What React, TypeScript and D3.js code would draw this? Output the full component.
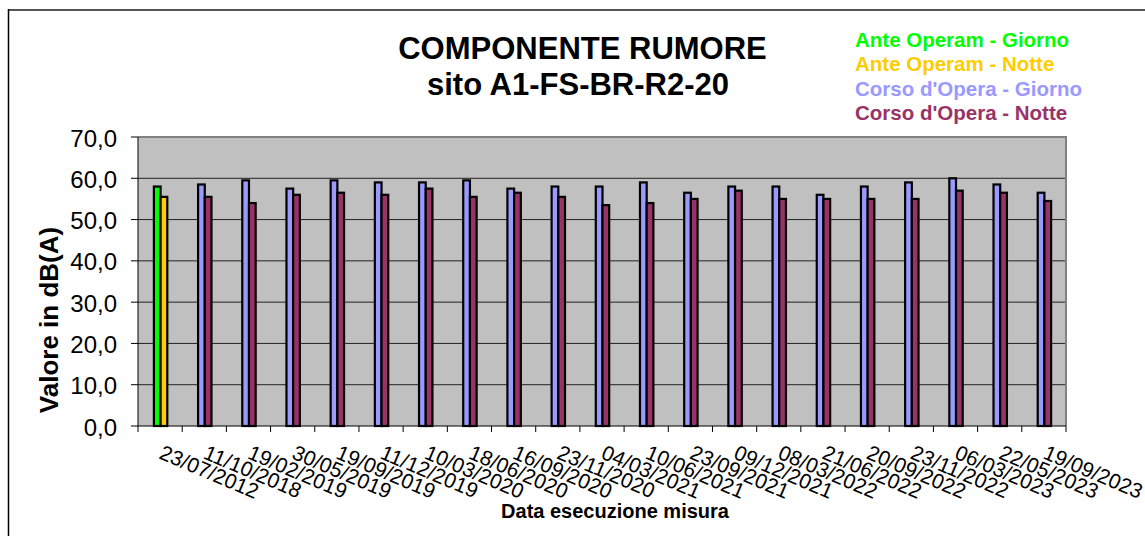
import React from "react";
import * as d3 from "d3";

// dates of each survey
const dates = [
  "23/07/2012", "11/10/2018", "19/02/2019", "30/05/2019", "19/09/2019",
  "11/12/2019", "10/03/2020", "18/06/2020", "16/09/2020", "23/11/2020",
  "04/03/2021", "10/06/2021", "23/09/2021", "09/12/2021", "08/03/2022",
  "21/06/2022", "20/09/2022", "23/11/2022", "06/03/2023", "22/05/2023",
  "19/09/2023",
];

// phase: "ante" = Ante Operam, "corso" = Corso d'Opera
const phase = ["ante", ...Array(20).fill("corso")];

const giorno = [
  58.0, 58.5, 59.5, 57.5, 59.5, 59.0, 59.0, 59.5, 57.5, 58.0,
  58.0, 59.0, 56.5, 58.0, 58.0, 56.0, 58.0, 59.0, 60.0, 58.5, 56.5,
];
const notte = [
  55.5, 55.5, 54.0, 56.0, 56.5, 56.0, 57.5, 55.5, 56.5, 55.5,
  53.5, 54.0, 55.0, 57.0, 55.0, 55.0, 55.0, 55.0, 57.0, 56.5, 54.5,
];

const yTicks = [0, 10, 20, 30, 40, 50, 60, 70];

const legend = [
  { label: "Ante Operam - Giorno", color: "#00FF00" },
  { label: "Ante Operam - Notte", color: "#FFCC00" },
  { label: "Corso d'Opera - Giorno", color: "#9999FF" },
  { label: "Corso d'Opera - Notte", color: "#993366" },
];

const colors: Record<string, { giorno: string; notte: string }> = {
  ante: { giorno: "#00FF00", notte: "#FFCC00" },
  corso: { giorno: "#9999FF", notte: "#993366" },
};

const W = 1145;
const H = 536;
const plot = { left: 138, right: 1066, top: 137, bottom: 426 };
const font = "'Liberation Sans', Arial, sans-serif";

export default function App() {
  const x = d3
    .scaleBand<string>()
    .domain(dates)
    .range([plot.left, plot.right])
    .padding(0);
  const y = d3.scaleLinear().domain([0, 70]).range([plot.bottom, plot.top]);

  const step = x.step();
  // two bars per date, roughly 30% of the slot
  const sub = d3
    .scaleBand<string>()
    .domain(["giorno", "notte"])
    .range([step / 2 - 6.2, step / 2 + 7.2]);

  const fmt = (v: number) => v.toFixed(1).replace(".", ",");

  return (
    <svg
      width={W}
      height={H}
      style={{ position: "absolute", left: 0, top: 0, background: "#fff" }}
      fontFamily={font}
    >
      {/* chart border */}
      <line x1={8} y1={10} x2={W} y2={10} stroke="#555" strokeWidth={2} />
      <line x1={8.5} y1={9} x2={8.5} y2={H} stroke="#000" strokeWidth={1.5} />

      {/* title */}
      <g textAnchor="middle" fontWeight="bold" fontSize={31} fill="#000">
        <text x={582.5} y={59}>COMPONENTE RUMORE</text>
        <text x={578} y={95}>sito A1-FS-BR-R2-20</text>
      </g>

      {/* legend */}
      <g fontWeight="bold" fontSize={20.5}>
        {legend.map((d, i) => (
          <text key={d.label} x={855} y={46.5 + i * 24.5} fill={d.color}>
            {d.label}
          </text>
        ))}
      </g>

      {/* plot area */}
      <rect
        x={plot.left}
        y={plot.top}
        width={plot.right - plot.left}
        height={plot.bottom - plot.top}
        fill="#C0C0C0"
      />
      {yTicks.slice(1, -1).map((t) => (
        <line
          key={t}
          x1={plot.left}
          x2={plot.right}
          y1={y(t)}
          y2={y(t)}
          stroke="#222"
          strokeWidth={1}
        />
      ))}
      <polyline
        points={`${plot.left},${plot.top} ${plot.right},${plot.top} ${plot.right},${plot.bottom}`}
        fill="none"
        stroke="#808080"
        strokeWidth={2}
      />

      {/* bars */}
      {dates.map((d, i) => {
        const x0 = x(d)!;
        const c = colors[phase[i]];
        return (
          <g key={d}>
            <rect
              x={x0 + sub("giorno")!}
              y={y(giorno[i])}
              width={sub.bandwidth()}
              height={y(0) - y(giorno[i])}
              fill={c.giorno}
              stroke="#000"
              strokeWidth={2.2}
            />
            <rect
              x={x0 + sub("notte")!}
              y={y(notte[i])}
              width={sub.bandwidth()}
              height={y(0) - y(notte[i])}
              fill={c.notte}
              stroke="#000"
              strokeWidth={2.2}
            />
          </g>
        );
      })}

      {/* y axis */}
      <line x1={plot.left} x2={plot.left} y1={plot.top} y2={plot.bottom} stroke="#000" />
      {yTicks.map((t) => (
        <g key={t}>
          <line x1={plot.left - 7} x2={plot.left} y1={y(t)} y2={y(t)} stroke="#000" />
          <text
            x={117}
            y={y(t) + 1}
            textAnchor="end"
            dominantBaseline="central"
            fontSize={24}
            fill="#000"
          >
            {fmt(t)}
          </text>
        </g>
      ))}
      <text
        transform={`translate(58, 320) rotate(-90)`}
        textAnchor="middle"
        fontWeight="bold"
        fontSize={26}
        fill="#000"
      >
        Valore in dB(A)
      </text>

      {/* x axis */}
      <line x1={plot.left} x2={plot.right} y1={plot.bottom} y2={plot.bottom} stroke="#000" />
      {[...dates.map((d) => x(d)!), plot.right].map((px, i) => (
        <line key={i} x1={px} x2={px} y1={plot.bottom} y2={plot.bottom + 6} stroke="#000" />
      ))}
      {dates.map((d) => (
        <text
          key={d}
          transform={`translate(${x(d)! + step / 2 - 2}, 458) rotate(23)`}
          fontSize={21}
          fill="#000"
        >
          {d}
        </text>
      ))}
      <text x={615} y={518} textAnchor="middle" fontWeight="bold" fontSize={20} fill="#000">
        Data esecuzione misura
      </text>
    </svg>
  );
}
